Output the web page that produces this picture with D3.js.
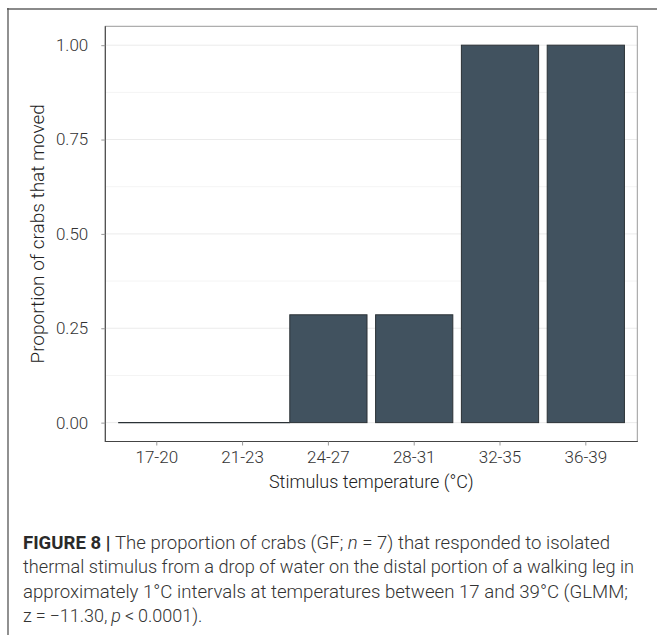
<!DOCTYPE html>
<html>
<head>
<meta charset="utf-8">
<script src="https://cdn.jsdelivr.net/npm/d3@7"></script>
<style>
  html, body { margin: 0; padding: 0; background: #fff; }
  svg { display: block; }
  text { font-family: Roboto, "Liberation Sans", sans-serif; }
</style>
</head>
<body>
<svg id="fig" width="657" height="635"></svg>
<script>
// Temperature bins and the proportion of crabs that moved in each
const categories = ["17-20", "21-23", "24-27", "28-31", "32-35", "36-39"];
const proportions = [0, 0, 0.2857, 0.2857, 1, 1];
const yTicks = [0, 0.25, 0.5, 0.75, 1];
const yMinor = [0.125, 0.375, 0.625, 0.875];
const yTickLabels = ["0.00", "0.25", "0.50", "0.75", "1.00"];

const svg = d3.select("#fig");
const W = 657, H = 635;
const panel = { left: 105.3, right: 637.3, top: 26.3, bottom: 441.5 };

// Figure frame (top rule and left rule)
svg.append("line").attr("x1", 7).attr("x2", W).attr("y1", 9).attr("y2", 9)
  .attr("stroke", "#8a8a8a").attr("stroke-width", 2);
svg.append("line").attr("x1", 8).attr("x2", 8).attr("y1", 8).attr("y2", H)
  .attr("stroke", "#555").attr("stroke-width", 1.3);

const x = d3.scaleBand()
  .domain(categories)
  .range([panel.left, panel.right])
  .paddingInner(0.1)
  .paddingOuter(0.15);

const y = d3.scaleLinear()
  .domain([-0.05, 1.05])
  .range([panel.bottom, panel.top]);

const g = svg.append("g");

// Grid lines
g.selectAll("line.minor").data(yMinor).enter().append("line")
  .attr("x1", panel.left).attr("x2", panel.right)
  .attr("y1", d => y(d)).attr("y2", d => y(d))
  .attr("stroke", "#f4f4f4").attr("stroke-width", 1);
g.selectAll("line.major").data(yTicks).enter().append("line")
  .attr("x1", panel.left).attr("x2", panel.right)
  .attr("y1", d => y(d)).attr("y2", d => y(d))
  .attr("stroke", "#ebebeb").attr("stroke-width", 1);

// Baseline under the zero-valued bins, up to the first non-zero bar
const firstNonZero = proportions.findIndex(v => v > 0);
g.append("line")
  .attr("x1", x(categories[0])).attr("x2", x(categories[firstNonZero]))
  .attr("y1", y(0)).attr("y2", y(0))
  .attr("stroke", "#2b3236").attr("stroke-width", 1.1);

// Bars
g.selectAll("rect.bar").data(proportions.map((v, i) => ({ v, c: categories[i] })).filter(d => d.v > 0))
  .enter().append("rect")
  .attr("x", d => x(d.c))
  .attr("width", x.bandwidth())
  .attr("y", d => y(d.v))
  .attr("height", d => y(0) - y(d.v))
  .attr("fill", "#41525f")
  .attr("stroke", "#2b3236")
  .attr("stroke-width", 1);

// Panel border: light top/right, dark axis lines left/bottom
g.append("rect")
  .attr("x", panel.left).attr("y", panel.top)
  .attr("width", panel.right - panel.left).attr("height", panel.bottom - panel.top)
  .attr("fill", "none").attr("stroke", "#9a9a9a").attr("stroke-width", 1);
g.append("line").attr("x1", panel.left).attr("x2", panel.left)
  .attr("y1", panel.top).attr("y2", panel.bottom + 0.5)
  .attr("stroke", "#444").attr("stroke-width", 1.1);
g.append("line").attr("x1", panel.left).attr("x2", panel.right + 0.5)
  .attr("y1", panel.bottom).attr("y2", panel.bottom)
  .attr("stroke", "#444").attr("stroke-width", 1.1);

// Axes
const yAxis = d3.axisLeft(y).tickValues(yTicks)
  .tickFormat((d, i) => yTickLabels[i]).tickSize(4).tickPadding(13);
const yg = svg.append("g").attr("transform", `translate(${panel.left},0)`).call(yAxis);
yg.select(".domain").remove();
yg.selectAll(".tick line").attr("stroke", "#999");
yg.selectAll(".tick text").attr("font-size", 17).attr("fill", "#333")
  .attr("font-weight", 300).attr("font-family", "Roboto, 'Liberation Sans', sans-serif");

const xAxis = d3.axisBottom(x).tickSize(4);
const xg = svg.append("g").attr("transform", `translate(0,${panel.bottom})`).call(xAxis);
xg.select(".domain").remove();
xg.selectAll(".tick line").attr("stroke", "#999");
xg.selectAll(".tick text").attr("font-size", 17).attr("fill", "#333")
  .attr("font-weight", 300).attr("font-family", "Roboto, 'Liberation Sans', sans-serif")
  .attr("y", 21.5).attr("dy", 0);

// Axis titles
svg.append("text")
  .attr("x", (panel.left + panel.right) / 2).attr("y", 488)
  .attr("text-anchor", "middle").attr("font-size", 18).attr("font-weight", 300)
  .attr("fill", "#222")
  .text("Stimulus temperature (°C)");
svg.append("text")
  .attr("transform", `translate(44,${(y(0) + y(1)) / 2}) rotate(-90)`)
  .attr("text-anchor", "middle").attr("font-size", 19).attr("font-weight", 300)
  .attr("fill", "#222")
  .text("Proportion of crabs that moved");

// Caption
const cap = svg.append("g").attr("font-size", 18).attr("fill", "#333");
const lineY = [548.5, 573, 597.5, 622];
const l1 = cap.append("text").attr("x", 23).attr("y", lineY[0])
  .attr("textLength", 587).attr("lengthAdjust", "spacingAndGlyphs");
l1.append("tspan").attr("font-weight", 700).attr("fill", "#2a2a2a").text("FIGURE 8 | ");
l1.append("tspan").attr("font-weight", 300).text("The proportion of crabs (GF; ");
l1.append("tspan").attr("font-weight", 300).attr("font-style", "italic").text("n");
l1.append("tspan").attr("font-weight", 300).text(" = 7) that responded to isolated");
cap.append("text").attr("x", 23).attr("y", lineY[1]).attr("font-weight", 300)
  .attr("textLength", 611).attr("lengthAdjust", "spacingAndGlyphs")
  .text("thermal stimulus from a drop of water on the distal portion of a walking leg in");
cap.append("text").attr("x", 23).attr("y", lineY[2]).attr("font-weight", 300)
  .attr("textLength", 605).attr("lengthAdjust", "spacingAndGlyphs")
  .text("approximately 1°C intervals at temperatures between 17 and 39°C (GLMM;");
const l4 = cap.append("text").attr("x", 23).attr("y", lineY[3]).attr("font-weight", 300)
  .attr("word-spacing", -0.5);
l4.append("tspan").text("z = −11.30, ");
l4.append("tspan").attr("font-style", "italic").text("p");
l4.append("tspan").text(" < 0.0001).");
</script>
</body>
</html>
